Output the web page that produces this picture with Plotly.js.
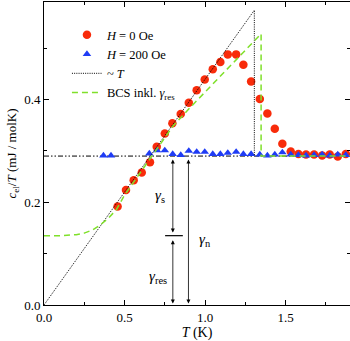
<!DOCTYPE html>
<html><head><meta charset="utf-8">
<script src="https://cdn.plot.ly/plotly-3.0.1.min.js"></script>
<style>html,body{margin:0;padding:0;background:#fff}#c{width:350px;height:341px}</style>
</head><body><div id="c"></div>
<script>
// H = 0 Oe
const T_H0 = [0.457,0.509,0.557,0.607,0.658,0.700,0.750,0.797,0.849,0.899,0.948,0.998,1.048,1.095,1.141,1.193,1.238,1.286,1.340,1.387,1.433,1.480,1.532,1.580,1.627,1.677,1.727,1.774,1.824,1.874];
const c_H0 = [0.192,0.224,0.243,0.258,0.278,0.308,0.334,0.354,0.372,0.394,0.418,0.439,0.459,0.473,0.488,0.488,0.468,0.435,0.401,0.373,0.343,0.314,0.299,0.294,0.293,0.293,0.291,0.293,0.289,0.294];
// H = 200 Oe
const T_H200 = [0.369,0.416,0.654,0.702,0.750,0.799,0.849,0.899,0.948,0.998,1.048,1.095,1.141,1.193,1.238,1.286,1.340,1.387,1.433,1.480,1.532,1.580,1.627,1.677,1.727,1.774,1.824,1.874];
const c_H200 = [0.291,0.291,0.295,0.301,0.301,0.294,0.292,0.300,0.298,0.298,0.294,0.294,0.296,0.298,0.294,0.294,0.293,0.291,0.293,0.297,0.293,0.292,0.291,0.292,0.293,0.291,0.293,0.292];
// ~T line
const T_lin = [0, 1.306, 1.306];
const c_lin = [0, 0.574, 0.29];
// BCS incl. gamma_res
const T_bcs = [0,0.1,0.2,0.25,0.3,0.35,0.4,0.45,0.5,0.55,0.6,0.65,0.7,0.8,0.9,1.0,1.1,1.2,1.3,1.348,1.348,1.4,1.5,1.6,1.7,1.8,1.9];
const c_bcs = [0.135,0.135,0.137,0.140,0.146,0.156,0.169,0.186,0.214,0.236,0.258,0.281,0.304,0.348,0.382,0.415,0.447,0.480,0.512,0.528,0.290,0.290,0.290,0.290,0.290,0.290,0.290];
// normal state level
const gammaN = 0.29;
const gammaRes = 0.135;
const T_norm = [0, 1.9];
const c_norm = [gammaN, gammaN];
const xTickVals = [0, 0.5, 1.0, 1.5];
const xTickText = ['0.0','0.5','1.0','1.5'];
const yTickVals = [0, 0.2, 0.4];
const yTickText = ['0.0','0.2','0.4'];

const serif = 'Liberation Serif';
const traces = [
  {x:T_norm, y:c_norm, mode:'lines', line:{color:'#000', width:1, dash:'5px,2px,1.5px,2px,1.5px,2px'}, showlegend:false, hoverinfo:'skip'},
  {x:T_H0, y:c_H0, mode:'markers', name:'<i>H</i> = 0 Oe', marker:{color:'#f82b0a', size:8.5, symbol:'circle'}},
  {x:T_H200, y:c_H200, mode:'markers', name:'<i>H</i> = 200 Oe', marker:{color:'#1f3cf5', size:7.5, symbol:'triangle-up'}},
  {x:T_lin, y:c_lin, mode:'lines', name:'~ <i>T</i>', line:{color:'#000', width:1, dash:'1px,1.2px'}},
  {x:T_bcs, y:c_bcs, mode:'lines', name:'BCS inkl. <i>γ</i><sub>res</sub>', line:{color:'#7fe02a', width:1.5, dash:'6px,4px'}},
];

const xa = 0.80, xb = 0.897;
const arrowBase = {xref:'x', yref:'y', axref:'x', ayref:'y', text:'', showarrow:true, arrowhead:2, startarrowhead:2, arrowsize:1, startarrowsize:1, arrowwidth:0.8, arrowcolor:'#000', arrowside:'end+start'};
const annotations = [
  Object.assign({}, arrowBase, {x:xa, y:gammaRes+0.006, ax:xa, ay:gammaN-0.004}),
  Object.assign({}, arrowBase, {x:xa, y:0.003, ax:xa, ay:gammaRes-0.006}),
  Object.assign({}, arrowBase, {x:xb, y:0.003, ax:xb, ay:gammaN-0.004}),
  {xref:'x', yref:'y', x:0.72, y:0.213, text:'<i>γ</i><sub>s</sub>', showarrow:false, font:{family:serif, size:15, color:'#000'}},
  {xref:'x', yref:'y', x:1.0, y:0.127, text:'<i>γ</i><sub>n</sub>', showarrow:false, font:{family:serif, size:15, color:'#000'}},
  {xref:'x', yref:'y', x:0.71, y:0.055, text:'<i>γ</i><sub>res</sub>', showarrow:false, font:{family:serif, size:15, color:'#000'}},
];
const shapes = [
  {type:'line', xref:'x', yref:'y', x0:0.752, x1:0.862, y0:gammaRes, y1:gammaRes, line:{color:'#000', width:1.2}}
];

const layout = {
  width:350, height:341,
  margin:{l:44, r:0, t:2, b:36},
  paper_bgcolor:'#fff', plot_bgcolor:'#fff',
  font:{family:serif, size:13, color:'#000'},
  showlegend:true,
  legend:{x:0.075, y:0.94, xanchor:'left', yanchor:'top', bgcolor:'rgba(0,0,0,0)', font:{family:serif, size:12.5}, tracegroupgap:0, itemwidth:30},
  xaxis:{range:[0,1.9], tickvals:xTickVals, ticktext:xTickText, ticks:'inside', ticklen:5, tickcolor:'#000', showline:true, linecolor:'#000', linewidth:1, mirror:'ticks', showgrid:false, zeroline:false,
    minor:{dtick:0.25, tick0:0, ticks:'inside', ticklen:3, tickcolor:'#000', showgrid:false},
    tickfont:{family:serif, size:13}, title:{text:'<i>T</i> (K)', font:{family:serif, size:14}, standoff:2}},
  yaxis:{range:[0,0.59], tickvals:yTickVals, ticktext:yTickText, ticks:'inside', ticklen:5, tickcolor:'#000', showline:true, linecolor:'#000', linewidth:1, mirror:'ticks', showgrid:false, zeroline:false,
    minor:{dtick:0.1, tick0:0, ticks:'inside', ticklen:3, tickcolor:'#000', showgrid:false},
    tickfont:{family:serif, size:13}, title:{text:'<i>c</i><sub>el</sub>/<i>T</i> (mJ / molK)', font:{family:serif, size:13}, standoff:4}},
  annotations:annotations,
  shapes:shapes
};
Plotly.newPlot('c', traces, layout, {staticPlot:true, displayModeBar:false});
</script>
</body></html>
